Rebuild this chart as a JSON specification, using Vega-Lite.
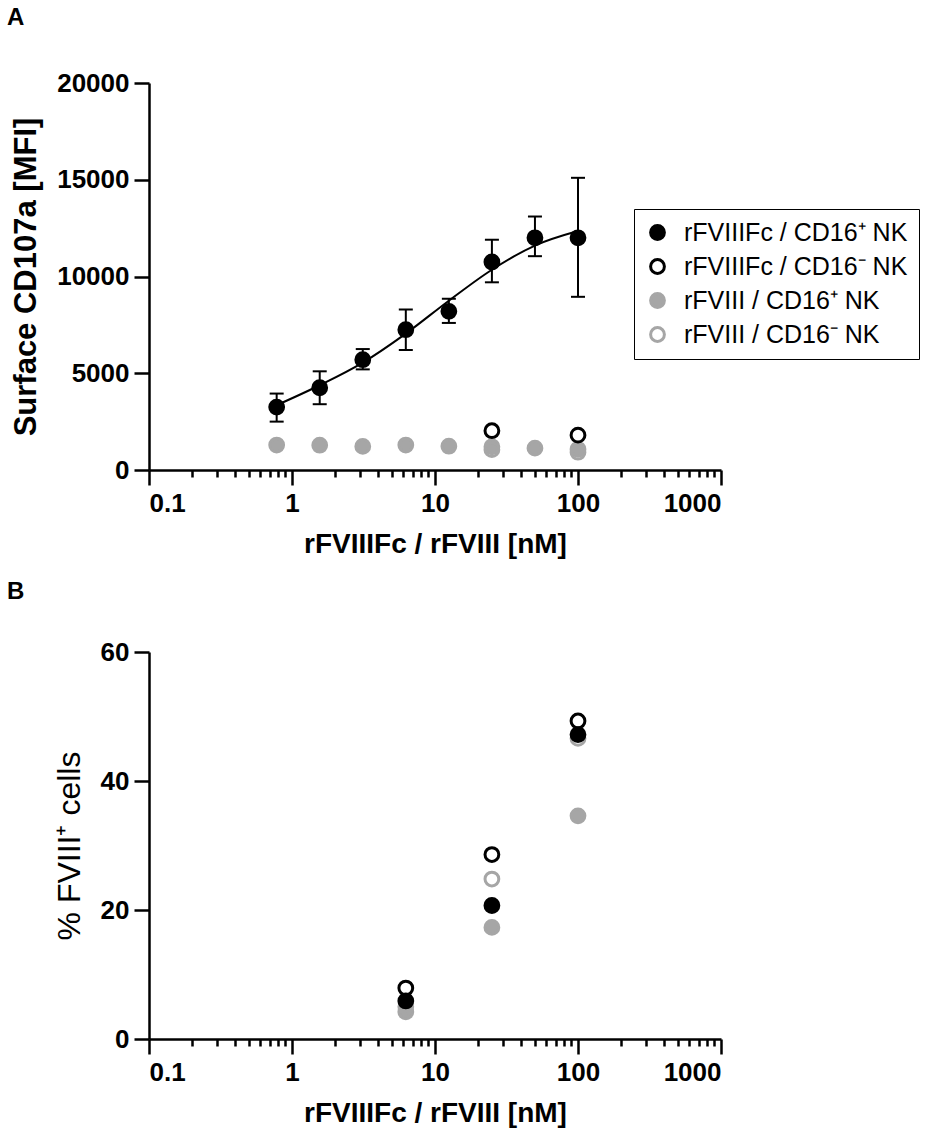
{
  "$schema": "https://vega.github.io/schema/vega-lite/v6.json",
  "background": "white",
  "padding": {"left": 7, "top": 6, "right": 5, "bottom": 5},
  "bounds": "flush",
  "spacing": 182,
  "datasets": {
    "curveA": [
      {"x": 0.78125, "y": 3350},
      {"x": 1.5625, "y": 4380},
      {"x": 3.125, "y": 5550},
      {"x": 6.25, "y": 7050},
      {"x": 12.5, "y": 8750},
      {"x": 25, "y": 10350},
      {"x": 50, "y": 11600},
      {"x": 100, "y": 12350}
    ],
    "pointsA": [
      {"x": 0.78125, "y": 1290, "series": "rFVIII / CD16⁺ NK"},
      {"x": 1.5625, "y": 1280, "series": "rFVIII / CD16⁺ NK"},
      {"x": 3.125, "y": 1220, "series": "rFVIII / CD16⁺ NK"},
      {"x": 6.25, "y": 1290, "series": "rFVIII / CD16⁺ NK"},
      {"x": 12.5, "y": 1230, "series": "rFVIII / CD16⁺ NK"},
      {"x": 25, "y": 1200, "series": "rFVIII / CD16⁺ NK"},
      {"x": 50, "y": 1130, "series": "rFVIII / CD16⁺ NK"},
      {"x": 100, "y": 1070, "series": "rFVIII / CD16⁺ NK"},
      {"x": 25, "y": 1050, "series": "rFVIII / CD16⁻ NK"},
      {"x": 100, "y": 920, "series": "rFVIII / CD16⁻ NK"},
      {"x": 25, "y": 2030, "series": "rFVIIIFc / CD16⁻ NK"},
      {"x": 100, "y": 1800, "series": "rFVIIIFc / CD16⁻ NK"},
      {"x": 0.78125, "y": 3250, "lo": 2500, "hi": 3950, "series": "rFVIIIFc / CD16⁺ NK"},
      {"x": 1.5625, "y": 4250, "lo": 3400, "hi": 5100, "series": "rFVIIIFc / CD16⁺ NK"},
      {"x": 3.125, "y": 5700, "lo": 5200, "hi": 6250, "series": "rFVIIIFc / CD16⁺ NK"},
      {"x": 6.25, "y": 7250, "lo": 6200, "hi": 8300, "series": "rFVIIIFc / CD16⁺ NK"},
      {"x": 12.5, "y": 8200, "lo": 7600, "hi": 8850, "series": "rFVIIIFc / CD16⁺ NK"},
      {"x": 25, "y": 10750, "lo": 9700, "hi": 11900, "series": "rFVIIIFc / CD16⁺ NK"},
      {"x": 50, "y": 12000, "lo": 11050, "hi": 13100, "series": "rFVIIIFc / CD16⁺ NK"},
      {"x": 100, "y": 12000, "lo": 8950, "hi": 15100, "series": "rFVIIIFc / CD16⁺ NK"}
    ],
    "pointsB": [
      {"x": 6.25, "y": 4.2, "series": "rFVIII / CD16⁺ NK"},
      {"x": 25, "y": 17.3, "series": "rFVIII / CD16⁺ NK"},
      {"x": 100, "y": 34.6, "series": "rFVIII / CD16⁺ NK"},
      {"x": 6.25, "y": 5.0, "series": "rFVIII / CD16⁻ NK"},
      {"x": 25, "y": 24.8, "series": "rFVIII / CD16⁻ NK"},
      {"x": 100, "y": 46.6, "series": "rFVIII / CD16⁻ NK"},
      {"x": 6.25, "y": 7.9, "series": "rFVIIIFc / CD16⁻ NK"},
      {"x": 25, "y": 28.6, "series": "rFVIIIFc / CD16⁻ NK"},
      {"x": 100, "y": 49.3, "series": "rFVIIIFc / CD16⁻ NK"},
      {"x": 6.25, "y": 5.9, "series": "rFVIIIFc / CD16⁺ NK"},
      {"x": 25, "y": 20.7, "series": "rFVIIIFc / CD16⁺ NK"},
      {"x": 100, "y": 47.2, "series": "rFVIIIFc / CD16⁺ NK"}
    ]
  },
  "resolve": {
    "scale": {"fill": "independent", "stroke": "independent"},
    "legend": {"fill": "independent", "stroke": "independent"}
  },
  "vconcat": [
    {
      "width": 572,
      "height": 387,
      "title": {"text": "A", "dx": -142, "offset": 40},
      "resolve": {"axis": {"x": "independent"}},
      "layer": [
        {
          "data": {"name": "curveA"},
          "mark": {"type": "line", "color": "black", "strokeWidth": 2, "interpolate": "monotone"},
          "encoding": {
            "x": {
              "field": "x", "type": "quantitative",
              "scale": {"type": "log", "domain": [0.1, 1000]},
              "axis": {"values": [0.1, 1, 10, 100, 1000], "format": "~g", "title": "rFVIIIFc / rFVIII [nM]", "orient": "bottom"}
            },
            "y": {
              "field": "y", "type": "quantitative",
              "scale": {"domain": [0, 20000]},
              "axis": {"values": [0, 5000, 10000, 15000, 20000], "format": "d", "title": "Surface CD107a [MFI]", "titleFontSize": 31}
            }
          }
        },
        {
          "data": {"name": "pointsA"},
          "transform": [{"filter": "isValid(datum.lo)"}],
          "mark": {"type": "rule", "color": "black", "strokeWidth": 2},
          "encoding": {
            "x": {"field": "x", "type": "quantitative", "axis": {"values": [0.2, 0.3, 0.4, 0.5, 0.6, 0.7, 0.8, 0.9, 2, 3, 4, 5, 6, 7, 8, 9, 20, 30, 40, 50, 60, 70, 80, 90, 200, 300, 400, 500, 600, 700, 800, 900], "labels": false, "domain": false, "tickSize": 7, "title": null, "orient": "bottom"}},
            "y": {"field": "lo", "type": "quantitative"},
            "y2": {"field": "hi"}
          }
        },
        {
          "data": {"name": "pointsA"},
          "transform": [{"filter": "isValid(datum.lo)"}],
          "mark": {"type": "tick", "color": "black", "orient": "horizontal", "size": 14, "thickness": 2, "opacity": 1},
          "encoding": {
            "x": {"field": "x", "type": "quantitative", "axis": null},
            "y": {"field": "lo", "type": "quantitative"}
          }
        },
        {
          "data": {"name": "pointsA"},
          "transform": [{"filter": "isValid(datum.hi)"}],
          "mark": {"type": "tick", "color": "black", "orient": "horizontal", "size": 14, "thickness": 2, "opacity": 1},
          "encoding": {
            "x": {"field": "x", "type": "quantitative", "axis": null},
            "y": {"field": "hi", "type": "quantitative"}
          }
        },
        {
          "data": {"name": "pointsA"},
          "mark": {"type": "point", "shape": "circle", "size": 190, "strokeWidth": 3, "opacity": 1},
          "encoding": {
            "x": {"field": "x", "type": "quantitative", "axis": null},
            "y": {"field": "y", "type": "quantitative"},
            "fill": {
              "field": "series", "type": "nominal",
              "scale": {
                "domain": ["rFVIIIFc / CD16⁺ NK", "rFVIIIFc / CD16⁻ NK", "rFVIII / CD16⁺ NK", "rFVIII / CD16⁻ NK"],
                "range": ["black", "transparent", "#a6a6a6", "transparent"]
              },
              "legend": {
                "title": null, "orient": "none", "legendX": 485, "legendY": 126,
                "strokeColor": "black", "padding": 11, "rowPadding": 7,
                "symbolSize": 190, "symbolStrokeWidth": 3, "labelFontSize": 25, "labelLimit": 400,
                "labelFont": "Liberation Sans", "labelColor": "black", "labelOffset": 14,
                "symbolType": "circle"
              }
            },
            "stroke": {
              "field": "series", "type": "nominal",
              "scale": {
                "domain": ["rFVIIIFc / CD16⁺ NK", "rFVIIIFc / CD16⁻ NK", "rFVIII / CD16⁺ NK", "rFVIII / CD16⁻ NK"],
                "range": ["black", "black", "#a6a6a6", "#a6a6a6"]
              },
              "legend": {
                "title": null, "orient": "none", "legendX": 485, "legendY": 126,
                "strokeColor": "black", "padding": 11, "rowPadding": 7,
                "symbolSize": 190, "symbolStrokeWidth": 3, "labelFontSize": 25, "labelLimit": 400,
                "labelFont": "Liberation Sans", "labelColor": "black", "labelOffset": 14,
                "symbolType": "circle"
              }
            }
          }
        }
      ]
    },
    {
      "width": 572,
      "height": 387,
      "title": {"text": "B", "dx": -142, "offset": 35},
      "resolve": {"axis": {"x": "independent"}},
      "data": {"name": "pointsB"},
      "layer": [
        {
          "mark": {"type": "point", "shape": "circle", "size": 190, "strokeWidth": 3, "opacity": 1},
          "encoding": {
            "x": {
              "field": "x", "type": "quantitative",
              "scale": {"type": "log", "domain": [0.1, 1000]},
              "axis": {"values": [0.1, 1, 10, 100, 1000], "format": "~g", "title": "rFVIIIFc / rFVIII [nM]", "orient": "bottom"}
            },
            "y": {
              "field": "y", "type": "quantitative",
              "scale": {"domain": [0, 60]},
              "axis": {"values": [0, 20, 40, 60], "title": "% FVIII⁺ cells", "titleFontWeight": "normal", "titleFontSize": 32}
            },
            "fill": {
              "field": "series", "type": "nominal",
              "scale": {
                "domain": ["rFVIIIFc / CD16⁺ NK", "rFVIIIFc / CD16⁻ NK", "rFVIII / CD16⁺ NK", "rFVIII / CD16⁻ NK"],
                "range": ["black", "transparent", "#a6a6a6", "transparent"]
              },
              "legend": null
            },
            "stroke": {
              "field": "series", "type": "nominal",
              "scale": {
                "domain": ["rFVIIIFc / CD16⁺ NK", "rFVIIIFc / CD16⁻ NK", "rFVIII / CD16⁺ NK", "rFVIII / CD16⁻ NK"],
                "range": ["black", "black", "#a6a6a6", "#a6a6a6"]
              },
              "legend": null
            }
          }
        },
        {
          "mark": {"type": "point", "opacity": 0},
          "encoding": {
            "x": {"field": "x", "type": "quantitative", "axis": {"values": [0.2, 0.3, 0.4, 0.5, 0.6, 0.7, 0.8, 0.9, 2, 3, 4, 5, 6, 7, 8, 9, 20, 30, 40, 50, 60, 70, 80, 90, 200, 300, 400, 500, 600, 700, 800, 900], "labels": false, "domain": false, "tickSize": 7, "title": null, "orient": "bottom"}},
            "y": {"field": "y", "type": "quantitative"}
          }
        }
      ]
    }
  ],
  "config": {
    "view": {"stroke": null},
    "font": "Liberation Sans",
    "axis": {
      "grid": false,
      "domainColor": "black", "domainWidth": 2.5,
      "tickColor": "black", "tickWidth": 2.5, "tickSize": 15,
      "labelFont": "Liberation Sans", "labelFontSize": 26, "labelFontWeight": "bold", "labelColor": "black", "labelPadding": 5,
      "titleFont": "Liberation Sans", "titleFontSize": 28, "titleFontWeight": "bold", "titleColor": "black", "titlePadding": 14
    },
    "title": {"font": "Liberation Sans", "fontSize": 24, "fontWeight": "bold", "color": "black", "anchor": "start", "frame": "group"}
  }
}
